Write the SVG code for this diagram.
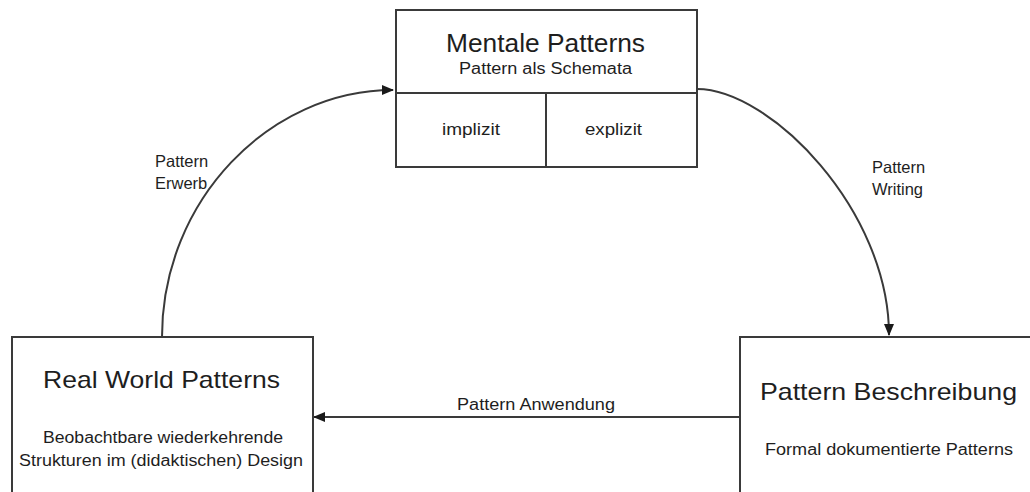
<svg xmlns="http://www.w3.org/2000/svg" width="1030" height="492" viewBox="0 0 1030 492">
<style>
.box{fill:#fff;stroke:#3a3a3a;stroke-width:2}
.ln{fill:none;stroke:#3a3a3a;stroke-width:2}
.t{font-family:"Liberation Sans",Arial,sans-serif;fill:#1e1e1e}
.title{font-size:24px}
.sub{font-size:16px}
.lbl{font-size:16.5px}
</style>
<defs>
<marker id="arr" markerUnits="userSpaceOnUse" markerWidth="12" markerHeight="10" refX="11" refY="5" orient="auto">
<path d="M0,0 L12,5 L0,10 Z" fill="#1a1a1a"/>
</marker>
</defs>
<rect width="1030" height="492" fill="#fff"/>
<g id="connectors">
<path class="ln" d="M162,337 C162,200 270,90 393,90" marker-end="url(#arr)"/>
<path class="ln" d="M697,89 C770,89 889,210 889,335" marker-end="url(#arr)"/>
<path class="ln" d="M740,417 L314,417" marker-end="url(#arr)"/>
<text class="t lbl" x="155" y="167">Pattern</text>
<text class="t lbl" x="155" y="189">Erwerb</text>
<text class="t lbl" x="872" y="173">Pattern</text>
<text class="t lbl" x="872" y="195">Writing</text>
<text class="t sub" x="457" y="410" textLength="158" lengthAdjust="spacingAndGlyphs">Pattern Anwendung</text>
</g>
<g id="mentale-patterns">
<rect class="box" x="396" y="10" width="301" height="157"/>
<line class="ln" x1="396" y1="93" x2="697" y2="93"/>
<line class="ln" x1="546" y1="93" x2="546" y2="167"/>
<text class="t" x="446" y="52" font-size="25" textLength="199" lengthAdjust="spacingAndGlyphs">Mentale Patterns</text>
<text class="t sub" x="459" y="74" textLength="173" lengthAdjust="spacingAndGlyphs">Pattern als Schemata</text>
<text class="t sub" x="442" y="135" textLength="58" lengthAdjust="spacingAndGlyphs">implizit</text>
<text class="t sub" x="585" y="135" textLength="57" lengthAdjust="spacingAndGlyphs">explizit</text>
</g>
<g id="real-world-patterns">
<rect class="box" x="12" y="337" width="301" height="170"/>
<text class="t title" x="43" y="388" textLength="237" lengthAdjust="spacingAndGlyphs">Real World Patterns</text>
<text class="t sub" x="43" y="443" textLength="240" lengthAdjust="spacingAndGlyphs">Beobachtbare wiederkehrende</text>
<text class="t sub" x="19" y="466" textLength="284" lengthAdjust="spacingAndGlyphs">Strukturen im (didaktischen) Design</text>
</g>
<g id="pattern-beschreibung">
<rect class="box" x="740" y="337" width="310" height="170"/>
<text class="t title" x="760" y="400" textLength="257" lengthAdjust="spacingAndGlyphs">Pattern Beschreibung</text>
<text class="t sub" x="765" y="455" textLength="248" lengthAdjust="spacingAndGlyphs">Formal dokumentierte Patterns</text>
</g>
</svg>
